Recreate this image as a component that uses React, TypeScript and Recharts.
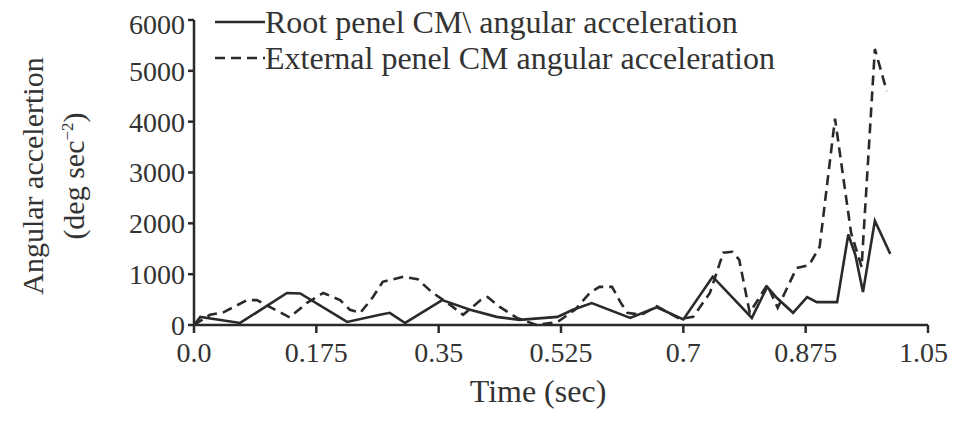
import { LineChart, Line, XAxis, YAxis } from 'recharts';

// Root panel CM angular acceleration (solid)
const rootTime = [0, 0.009, 0.066, 0.133, 0.152, 0.219, 0.266, 0.28, 0.302, 0.355, 0.395, 0.433, 0.466, 0.52, 0.542, 0.569, 0.624, 0.662, 0.7, 0.742, 0.798, 0.82, 0.834, 0.857, 0.877, 0.891, 0.92, 0.936, 0.946, 0.957, 0.974, 0.996];
const rootAcc = [0, 160, 40, 630, 620, 60, 200, 240, 40, 490, 300, 160, 100, 160, 300, 430, 140, 350, 110, 950, 140, 750, 530, 240, 550, 450, 450, 1780, 1380, 650, 2050, 1400];

// External panel CM angular acceleration (dashed)
const extTime = [0, 0.023, 0.042, 0.076, 0.09, 0.109, 0.137, 0.161, 0.185, 0.209, 0.223, 0.238, 0.256, 0.27, 0.3, 0.32, 0.34, 0.366, 0.385, 0.41, 0.42, 0.438, 0.462, 0.49, 0.52, 0.545, 0.566, 0.58, 0.598, 0.61, 0.62, 0.64, 0.662, 0.695, 0.714, 0.738, 0.757, 0.77, 0.78, 0.795, 0.82, 0.835, 0.862, 0.88, 0.895, 0.917, 0.94, 0.955, 0.974, 0.991];
const extAcc = [0, 200, 250, 490, 490, 350, 150, 430, 630, 490, 300, 240, 550, 850, 950, 900, 650, 400, 200, 490, 550, 350, 140, 0, 60, 300, 630, 750, 750, 450, 240, 200, 370, 120, 160, 630, 1420, 1440, 1280, 240, 790, 340, 1120, 1180, 1540, 4060, 1810, 1140, 5430, 4600];

const xTicks = [0, 0.175, 0.35, 0.525, 0.7, 0.875, 1.05];
const yTicks = [0, 1000, 2000, 3000, 4000, 5000, 6000];

const legendLabels = ['Root penel CM\\ angular acceleration', 'External penel CM angular acceleration'];

const rootData = rootTime.map((t, i) => ({ t, v: rootAcc[i] }));
const extData = extTime.map((t, i) => ({ t, v: extAcc[i] }));

const font = '"Liberation Serif", "Times New Roman", serif';
const ink = '#2a2a2a';
const textColor = '#333';

export default function App() {
  return (
    <div style={{ position: 'relative', width: 940, height: 405 }}>
      <LineChart width={940} height={405} margin={{ top: 12, right: 20, bottom: 58, left: 106 }}>
        <XAxis
          type="number"
          dataKey="t"
          domain={[0, 1.05]}
          ticks={xTicks}
          allowDuplicatedCategory={false}
          tickFormatter={(v) => (v === 0 ? '0.0' : String(v))}
          stroke={ink}
          strokeWidth={2.5}
          tickSize={8}
          tickMargin={9}
          height={30}
          tick={{ fill: textColor, fontSize: 28, fontFamily: font }}
        />
        <YAxis
          type="number"
          domain={[0, 6000]}
          ticks={yTicks}
          stroke={ink}
          strokeWidth={2.5}
          tickSize={6}
          tickMargin={3}
          width={80}
          tick={{ fill: textColor, fontSize: 28, fontFamily: font }}
        />
        <Line
          data={rootData}
          dataKey="v"
          name={legendLabels[0]}
          stroke={ink}
          strokeWidth={2.6}
          dot={false}
          type="linear"
          isAnimationActive={false}
        />
        <Line
          data={extData}
          dataKey="v"
          name={legendLabels[1]}
          stroke={ink}
          strokeWidth={2.6}
          strokeDasharray="10 6"
          dot={false}
          type="linear"
          isAnimationActive={false}
        />
      </LineChart>

      {/* legend */}
      <div
        style={{
          position: 'absolute',
          left: 207,
          top: -4,
          fontFamily: font,
          fontSize: 32,
          color: textColor,
          lineHeight: '36px',
          whiteSpace: 'nowrap',
        }}
      >
        {legendLabels.map((label, i) => (
          <div key={label} style={{ display: 'flex', alignItems: 'center' }}>
            <svg width={50} height={10}>
              <line x1={0} y1={5} x2={50} y2={5} stroke={ink} strokeWidth={2.5} strokeDasharray={i === 1 ? '10 6' : undefined} />
            </svg>
            <span>{label}</span>
          </div>
        ))}
      </div>

      {/* y axis title */}
      <div
        style={{
          position: 'absolute',
          left: 45,
          top: 168,
          transform: 'translate(-50%, -50%) rotate(-90deg)',
          fontFamily: font,
          fontSize: 30,
          color: textColor,
          textAlign: 'center',
          lineHeight: '35px',
          whiteSpace: 'nowrap',
        }}
      >
        <div>Angular accelertion</div>
        <div>
          (deg sec<sup style={{ fontSize: 17 }}>−2</sup>)
        </div>
      </div>

      {/* x axis title */}
      <div
        style={{
          position: 'absolute',
          left: 530,
          top: 383,
          transform: 'translate(-50%, -50%)',
          fontFamily: font,
          fontSize: 32,
          color: textColor,
          whiteSpace: 'nowrap',
        }}
      >
        Time (sec)
      </div>
    </div>
  );
}
